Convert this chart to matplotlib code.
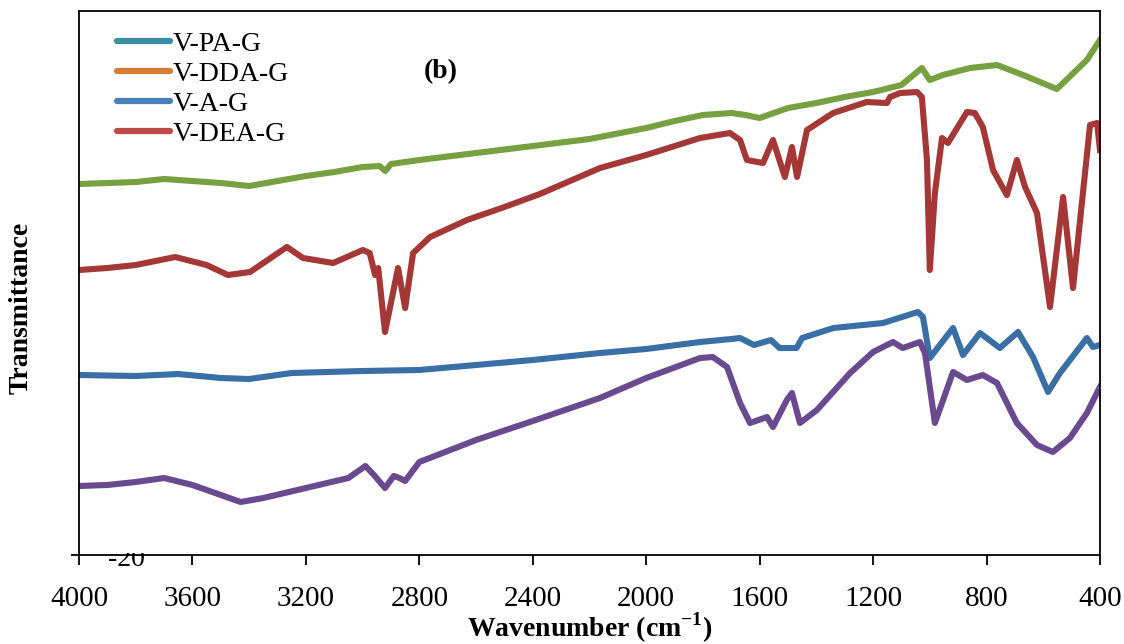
import matplotlib
matplotlib.use("Agg")
import matplotlib.pyplot as plt
from matplotlib.lines import Line2D
from matplotlib.patches import Rectangle

plt.rcParams['font.family'] = ['Liberation Serif', 'DejaVu Serif']
plt.rcParams['mathtext.fontset'] = 'custom'
plt.rcParams['mathtext.rm'] = 'Liberation Serif'
plt.rcParams['mathtext.bf'] = 'Liberation Serif:bold'

# wavenumber (cm-1) / transmittance (arbitrary, offset)
wn_green = [4000, 3900, 3800, 3700, 3600, 3500, 3400, 3300, 3200, 3100, 3000, 2940, 2920, 2900,
            2800, 2600, 2400, 2200, 2000, 1900, 1800, 1700, 1650, 1600, 1560, 1500, 1400, 1300,
            1200, 1100, 1028, 1000, 954, 858, 763, 671, 552, 446, 400]
t_green = [371, 372, 373, 376, 374, 372, 369, 374, 379, 383, 388, 389, 384, 391,
           395, 402, 409, 416, 427, 434, 440, 442, 440, 437, 441, 447, 452, 458,
           463, 470, 487, 475, 480, 487, 490, 480, 466, 495, 515]

wn_red = [4000, 3900, 3800, 3661, 3550, 3475, 3397, 3267, 3210, 3104, 2999, 2975, 2956, 2945,
          2921, 2875, 2850, 2822, 2762, 2632, 2500, 2375, 2163, 2000, 1810, 1705, 1669, 1645,
          1588, 1553, 1511, 1486, 1468, 1433, 1341, 1222, 1151, 1140, 1105, 1045, 1028, 1010,
          1000, 982, 957, 936, 869, 841, 813, 777, 742, 728, 693, 664, 622, 576, 530, 495,
          435, 410, 400]
t_red = [285, 287, 290, 298, 290, 280, 283, 308, 297, 292, 305, 302, 280, 287,
         223, 287, 247, 302, 318, 335, 348, 361, 387, 400, 417, 422, 415, 395,
         392, 415, 378, 408, 378, 425, 442, 453, 452, 458, 462, 463, 458, 395,
         285, 362, 417, 412, 443, 442, 428, 385, 367, 360, 395, 368, 342, 248, 358, 267,
         430, 432, 405]

wn_blue = [4000, 3800, 3650, 3500, 3400, 3250, 3000, 2800, 2600, 2400, 2163, 2000, 1810, 1700,
           1669, 1620, 1560, 1530, 1470, 1450, 1340, 1165, 1042, 1024, 1000, 918, 883, 823,
           753, 689, 636, 583, 541, 446, 425, 400]
t_blue = [180, 179, 181, 177, 176, 182, 184, 185, 190, 195, 202, 206, 213, 216,
          217, 210, 215, 207, 207, 217, 227, 232, 243, 238, 197, 227, 200, 222,
          207, 223, 198, 163, 182, 217, 208, 210]

wn_purple = [4000, 3900, 3800, 3700, 3600, 3500, 3430, 3350, 3200, 3050, 2990, 2960, 2921, 2890,
             2870, 2850, 2800, 2600, 2400, 2163, 2000, 1810, 1765, 1715, 1669, 1634, 1574, 1553,
             1504, 1486, 1458, 1398, 1281, 1200, 1130, 1095, 1035, 1017, 982, 918, 869, 813,
             763, 693, 622, 566, 506, 446, 400]
t_purple = [69, 70, 73, 77, 70, 60, 53, 57, 67, 77, 89, 80, 67, 79,
            77, 74, 93, 115, 134, 157, 177, 197, 198, 188, 152, 132, 138, 128,
            155, 162, 132, 145, 182, 203, 213, 207, 213, 202, 132, 183, 175, 180,
            172, 132, 110, 103, 117, 142, 168]

legend_labels = ["V-PA-G", "V-DDA-G", "V-A-G", "V-DEA-G"]
legend_colors = ["#3B8DA2", "#D57D32", "#4A7EBD", "#BE4B48"]

fig = plt.figure(figsize=(11.24, 6.44), dpi=100)
ax = fig.add_axes([0.0703, 0.1382, 0.9083, 0.8447])

lw = 4.4
ax.plot(wn_green, t_green, color="#77A040", lw=lw, solid_joinstyle="round")
ax.plot(wn_red, t_red, color="#A33836", lw=lw, solid_joinstyle="round")
ax.plot(wn_blue, t_blue, color="#3A6FA6", lw=lw, solid_joinstyle="round")
ax.plot(wn_purple, t_purple, color="#6A4A8E", lw=lw, solid_joinstyle="round")

ax.set_xlim(4000, 400)
ax.set_ylim(0, 544)
ax.set_xticks(range(4000, 399, -400))
ax.set_yticks([0])
ax.set_yticklabels([""])
ax.tick_params(axis="x", direction="out", length=7, width=1.3, labelsize=21, pad=15)
ax.tick_params(axis="y", direction="out", length=6, width=1.3)
for s in ax.spines.values():
    s.set_linewidth(1.3)

ax.set_xlabel(r"Wavenumber (cm$^{\mathbf{-1}}$)", fontsize=20, fontweight="bold")
ax.xaxis.set_label_coords(0.5, -0.102)
ax.set_ylabel("Transmittance", fontsize=20, fontweight="bold")
ax.yaxis.set_label_coords(-0.044, 0.454)

ax.text(0.354, 0.888, "(b)", transform=ax.transAxes, fontsize=20, fontweight="bold",
        ha="center", va="center")

handles = [Line2D([], [], color=c, lw=4.5, solid_capstyle="round") for c in legend_colors]
ax.legend(handles, legend_labels, loc="upper left", bbox_to_anchor=(0.037, 0.963),
          frameon=False, fontsize=20, handlelength=1.9, handletextpad=0.1,
          labelspacing=0.17, borderaxespad=0, borderpad=0)

# stray label fragment under the axis
t = fig.text(126 / 1124, 1 - 560 / 644, "-20", fontsize=20, ha="center", va="center")
clip = Rectangle((0, 0), 1, 1 - 553 / 644, transform=fig.transFigure, visible=False)
fig.add_artist(clip)
t.set_clip_path(clip)

fig.savefig("out.png", dpi=100)
